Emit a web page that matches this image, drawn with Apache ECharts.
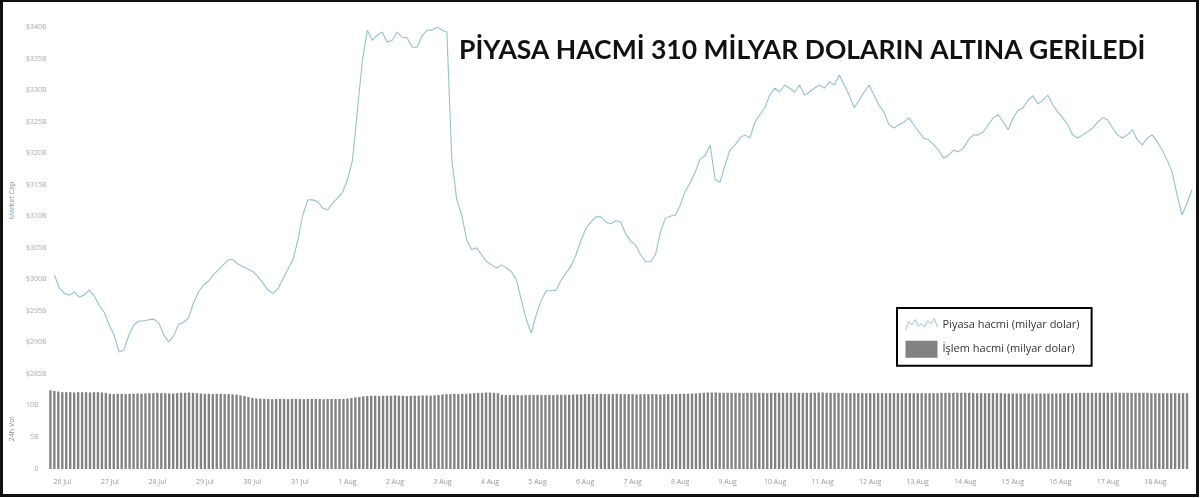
<!DOCTYPE html>
<html>
<head>
<meta charset="utf-8">
<script src="https://cdn.jsdelivr.net/npm/echarts@6/dist/echarts.min.js"></script>
<style>
html,body{margin:0;padding:0;background:#fff;}
#chart{width:1200px;height:498px;}
</style>
</head>
<body>
<div id="chart"></div>
<script>
// Market cap (billion $), evenly spaced samples
const marketCap = [
300.7,298.6,297.8,297.5,298.0,297.2,297.5,298.3,297.4,295.9,
294.8,292.8,291.2,288.5,288.8,291.2,292.8,293.4,293.4,293.6,
293.7,293.1,291.2,290.1,291.0,292.9,293.2,293.9,296.3,298.0,
299.1,299.7,300.7,301.5,302.3,303.1,303.1,302.4,302.0,301.6,
301.2,300.4,299.4,298.3,297.8,298.5,300.1,301.6,303.1,306.2,
310.2,312.6,312.6,312.3,311.3,311.0,312.1,312.9,313.8,315.8,
318.9,326.8,334.8,339.5,337.9,338.7,339.2,337.6,337.9,339.2,
338.4,338.3,336.8,336.8,338.6,339.5,339.5,340.0,339.5,339.2,
318.9,312.6,310.2,306.2,304.7,305.0,303.9,302.8,302.3,301.8,
302.3,301.8,301.2,299.9,296.7,293.6,291.5,294.4,296.7,298.2,
298.2,298.3,299.9,301.0,302.1,303.9,306.2,308.1,309.1,309.9,
309.9,309.1,308.8,309.3,309.1,307.2,306.1,305.4,303.9,302.8,
302.8,303.9,307.5,309.7,310.0,310.2,311.8,314.0,315.3,317.0,
319.1,319.6,321.3,315.8,315.4,318.1,320.5,321.3,322.4,322.9,
322.4,324.9,326.1,327.2,329.2,330.3,329.7,330.8,330.3,329.7,
330.8,329.2,329.7,330.3,330.8,330.3,331.3,330.8,332.4,330.8,
329.2,327.2,328.4,329.7,330.8,329.2,327.6,326.5,324.5,324.0,
324.5,324.9,325.6,324.5,323.4,322.4,322.1,321.3,320.5,319.2,
319.7,320.5,320.2,320.8,322.1,322.9,322.9,323.4,324.5,325.6,
326.1,324.9,323.7,325.6,326.8,327.2,328.4,329.1,327.8,328.4,
329.2,327.6,326.5,325.6,324.5,322.9,322.4,322.9,323.4,324.0,
324.9,325.6,325.3,324.0,322.9,322.4,322.9,323.7,322.1,321.3,
322.4,322.9,321.8,320.5,318.9,317.0,313.4,310.2,312.1,314.2
];

// Trade volume (billion $)
const tradeVolume = [
12.3,12.2,12.1,
12.0,12.0,12.0,11.95,12.0,12.0,12.0,11.95,12.0,12.0,11.95,11.9,
11.75,11.7,11.75,11.75,11.7,11.75,11.75,11.8,11.75,11.8,
11.85,11.85,11.9,11.85,11.85,11.8,11.8,11.85,11.9,11.9,11.95,11.9,11.85,11.8,
11.75,11.75,11.7,11.75,11.75,11.7,11.7,11.65,11.6,
11.5,11.4,11.25,11.1,11.0,11.0,
10.95,10.95,10.9,10.95,10.95,10.95,10.9,10.95,10.95,10.95,10.9,10.95,10.95,10.95,10.95,10.9,10.95,10.95,10.95,10.95,10.95,
11.0,11.1,11.2,11.25,11.35,11.4,
11.45,11.45,11.4,11.45,11.45,11.45,11.5,11.45,11.45,11.4,11.45,11.45,11.45,11.5,11.5,11.45,11.5,11.55,
11.65,11.7,11.7,11.75,11.7,11.75,11.75,11.8,11.85,11.9,11.9,11.95,11.95,11.9,11.85,11.6,11.55,
11.55,11.55,11.55,11.5,11.55,11.55,11.55,11.6,11.55,11.55,11.55,11.55,11.6,11.6,11.6,11.6,11.65,11.65,11.65,11.7,11.7,
11.7,11.7,11.75,11.7,11.7,11.7,11.75,11.7,11.7,11.7,11.7,11.65,11.7,11.7,11.7,11.7,11.7,11.65,11.7,11.7,11.7,11.7,11.75,11.75,11.75,11.8,11.8,11.85,11.9,11.95,
11.95,11.95,11.9,11.9,11.9,11.9,11.9,11.9,11.85,11.9,11.9,11.9,11.9,11.9,11.85,11.9,11.9,11.9,11.9,11.9,11.9,11.9,11.9,
11.9,11.9,11.9,11.9,11.95,11.95,11.9,11.9,11.9,11.9,
11.9,11.85,11.85,11.85,11.85,11.85,11.85,11.85,11.85,11.85,
11.85,11.85,11.85,11.85,11.85,11.85,11.85,11.85,11.85,11.85,
11.85,11.85,11.85,11.85,11.85,11.9,11.9,11.9,11.9,11.9,
11.9,11.9,11.9,11.85,11.85,11.85,11.85,11.85,11.85,11.85,
11.85,
11.8,11.8,11.8,11.8,11.8,11.8,11.8,11.8,11.8,11.8,11.8,11.8,11.8,11.8,11.8,11.85,11.85,11.85,11.85,11.9,11.9,11.9,
11.9,11.9,11.9,11.9,11.9,11.9,11.95,11.9,11.9,11.9,11.9,11.9,11.9,11.9,11.9,11.85,11.85,11.85,11.85,11.85,11.85,11.85,11.85,11.85,11.85
];

// Date tick labels shown under the volume panel
const tickLabels = ['26 Jul','27 Jul','28 Jul','29 Jul','30 Jul','31 Jul',
  '1 Aug','2 Aug','3 Aug','4 Aug','5 Aug','6 Aug','7 Aug','8 Aug','9 Aug','10 Aug',
  '11 Aug','12 Aug','13 Aug','14 Aug','15 Aug','16 Aug','17 Aug','18 Aug'];

const titleText = 'PİYASA HACMİ 310 MİLYAR DOLARIN ALTINA GERİLEDİ';
const seriesNames = ['Piyasa hacmi (milyar dolar)', 'İşlem hacmi (milyar dolar)'];

const lineCats = marketCap.map((_, i) => String(i));
const barCats = tradeVolume.map((_, i) => String(i));

const chart = echarts.init(document.getElementById('chart'));
chart.setOption({
  animation: false,
  backgroundColor: '#fff',
  textStyle: { fontFamily: 'Open Sans' },
  title: {
    text: titleText,
    left: 454, top: 32,
    textStyle: { fontFamily: 'Lato', fontWeight: 'bold', fontSize: 26.5, color: '#111' }
  },
  legend: {
    data: [
      { name: seriesNames[0], icon: 'path://M0,12 L3,4 L6,7 L9,2 L12,8 L15,6 L18,9 L21,3 L24,6 L27,1 L30,9', itemStyle: { color: 'transparent', borderColor: '#9cc7d5', borderWidth: 1 } },
      { name: seriesNames[1], icon: 'rect' }
    ],
    orient: 'vertical',
    left: 897, top: 308,
    width: 203,
    padding: [10, 12, 8, 8],
    itemWidth: 32, itemHeight: 17,
    itemGap: 10,
    borderColor: '#000', borderWidth: 2,
    backgroundColor: '#fff',
    textStyle: { fontSize: 11, color: '#333', fontFamily: 'Open Sans' }
  },
  grid: [
    { left: 47, right: 8, top: 27, height: 347 },
    { left: 46, right: 11, top: 389, height: 80 }
  ],
  xAxis: [
    { type: 'category', gridIndex: 0, data: lineCats, boundaryGap: false,
      axisLine: { show: false }, axisTick: { show: false }, axisLabel: { show: false }, splitLine: { show: false } },
    { type: 'category', gridIndex: 1, data: barCats, boundaryGap: true,
      axisLine: { show: false }, axisTick: { show: false }, splitLine: { show: false },
      axisLabel: {
        interval: (i) => (i - 3) % 12 === 0,
        formatter: (v, i) => tickLabels[(i - 3) / 12] || '',
        fontSize: 7, color: '#999', margin: 9
      } }
  ],
  yAxis: [
    { type: 'value', gridIndex: 0, min: 285, max: 340, interval: 5,
      name: 'Market Cap', nameLocation: 'middle', nameRotate: 90, nameGap: 37,
      nameTextStyle: { fontSize: 7, color: '#6f9fae' },
      axisLine: { show: false }, axisTick: { show: false }, splitLine: { show: false },
      axisLabel: { formatter: (v) => '$' + v + 'B', fontSize: 7, color: '#aaa', margin: 8 } },
    { type: 'value', gridIndex: 1, min: 0, max: 12.5, interval: 5,
      name: '24h Vol', nameLocation: 'middle', nameRotate: 90, nameGap: 30,
      nameTextStyle: { fontSize: 7, color: '#888' },
      axisLine: { show: false }, axisTick: { show: false }, splitLine: { show: false },
      axisLabel: { formatter: (v) => v === 0 ? '0' : v + 'B', fontSize: 7, color: '#aaa', margin: 10, showMaxLabel: false } }
  ],
  series: [
    { name: seriesNames[0], type: 'line', xAxisIndex: 0, yAxisIndex: 0, data: marketCap,
      showSymbol: false, symbol: 'none', lineStyle: { color: '#93c1d1', width: 1.1 }, itemStyle: { color: '#93c1d1' } },
    { name: seriesNames[1], type: 'bar', xAxisIndex: 1, yAxisIndex: 1, data: tradeVolume,
      barWidth: '60%', itemStyle: { color: '#828282' } }
  ],
  graphic: [
    { type: 'rect', silent: true, z: 100,
      shape: { x: 1.5, y: 0.5, width: 1196, height: 495 },
      style: { fill: 'none', stroke: '#111', lineWidth: 3 } }
  ]
});
</script>
</body>
</html>
